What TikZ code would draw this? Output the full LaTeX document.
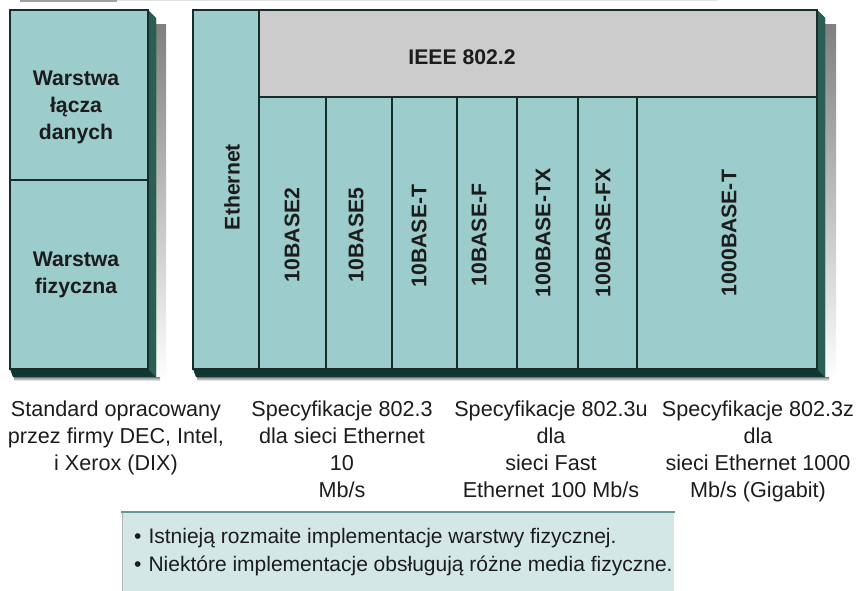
\documentclass[tikz,border=0pt]{standalone}
\usepackage{fontspec}
\setmainfont{Liberation Sans}
\definecolor{face}{RGB}{156,204,204}
\definecolor{head}{RGB}{204,204,204}
\definecolor{sidecol}{RGB}{44,94,86}
\definecolor{bottomcol}{RGB}{16,56,50}
\definecolor{edge}{RGB}{24,44,44}
\definecolor{ink}{RGB}{28,28,28}
\definecolor{note}{RGB}{212,231,231}
\definecolor{noteedge}{RGB}{104,150,150}
\definecolor{shade}{RGB}{236,233,236}
\begin{document}
\begin{tikzpicture}[x=1pt,y=-1pt,
  facebox/.style={fill=face,draw=edge,line width=1.1pt},
  headbox/.style={fill=head,draw=edge,line width=1.1pt},
  divider/.style={draw=edge,line width=1.1pt},
  boldlabel/.style={inner sep=0pt,text=ink,align=center,
    font=\bfseries\fontsize{21.2}{27}\selectfont},
  collabel/.style={boldlabel,rotate=90},
  caption/.style={inner sep=0pt,text=ink,align=center,
    font=\fontsize{21.6}{27}\selectfont},
  bulletline/.style={inner sep=0pt,text=ink,anchor=west,
    font=\fontsize{21}{27}\selectfont}]
\useasboundingbox (0,0) rectangle (860,590);

% thin strip along the top edge
\fill[gray!75] (20,0) rectangle (117,1.6);
\fill[gray!22] (117,0) rectangle (717,1.2);

% soft shadows behind both blocks
\fill[shade] (156,24) rectangle (166,381);
\fill[shade] (14,377) rectangle (160,381);
\fill[shade] (825,24) rectangle (836,381);
\fill[shade] (197,377) rectangle (829,381);

% ---- left block: OSI layers ----
\fill[bottomcol] (10,369) -- (13,377) -- (156,377) -- (156,18) -- (148,10) -- cycle;
\fill[sidecol] (148,10) -- (156,18) -- (156,377) -- (148,369) -- cycle;
\path[facebox] (10,10) rectangle (148,369);
\path[divider] (10,180) -- (148,180);
\node[boldlabel] (dll) at (76,107) {Warstwa\\łącza\\danych};
\node[boldlabel] (phy) at (76,275) {Warstwa\\fizyczna};

% ---- right block: Ethernet family ----
\fill[bottomcol] (193,369) -- (196,377) -- (825,377) -- (825,18) -- (817,10) -- cycle;
\fill[sidecol] (817,10) -- (825,18) -- (825,377) -- (817,369) -- cycle;
\path[facebox] (193,10) rectangle (817,369);
\path[headbox] (259,10) rectangle (817,97);
\path[divider] (259,97) -- (259,369);
\foreach \xx in {326,392,457,517,578,637}
  \path[divider] (\xx,97) -- (\xx,369);
\path[draw=edge,line width=1.1pt] (193,10) rectangle (817,369);

\node[boldlabel] (ieee) at (462,57) {IEEE 802.2};
\node[collabel] (eth) at (232,187) {Ethernet};
\node[collabel] (b2)  at (292,235) {10BASE2};
\node[collabel] (b5)  at (356,235) {10BASE5};
\node[collabel] (bt)  at (419,236) {10BASE-T};
\node[collabel] (bf)  at (479,235) {10BASE-F};
\node[collabel] (btx) at (543,233) {100BASE-TX};
\node[collabel] (bfx) at (603,233) {100BASE-FX};
\node[collabel] (gbt) at (729,233) {1000BASE-T};

% ---- captions under the blocks ----
\node[caption,anchor=north] (dix) at (116,401)
  {Standard opracowany\\przez firmy DEC, Intel,\\i Xerox (DIX)};
\node[caption,anchor=north] (s8023) at (342,401)
  {Specyfikacje 802.3\\dla sieci Ethernet\\10\\Mb/s};
\node[caption,anchor=north] (s8023u) at (551,401)
  {Specyfikacje 802.3u\\dla\\sieci Fast\\Ethernet 100 Mb/s};
\node[caption,anchor=north] (s8023z) at (758,401)
  {Specyfikacje 802.3z\\dla\\sieci Ethernet 1000\\Mb/s (Gigabit)};

% ---- note box ----
\fill[note] (122,512) rectangle (674,596);
\draw[gray!60,line width=0.8pt] (122,596) -- (122,512);
\draw[noteedge,line width=2pt] (121,512) -- (675,512);
\node[bulletline] (n1) at (134,538)
  {•\hspace{7pt}Istnieją rozmaite implementacje warstwy fizycznej.};
\node[bulletline] (n2) at (134,566)
  {•\hspace{7pt}Niektóre implementacje obsługują różne media fizyczne.};
\end{tikzpicture}
\end{document}
